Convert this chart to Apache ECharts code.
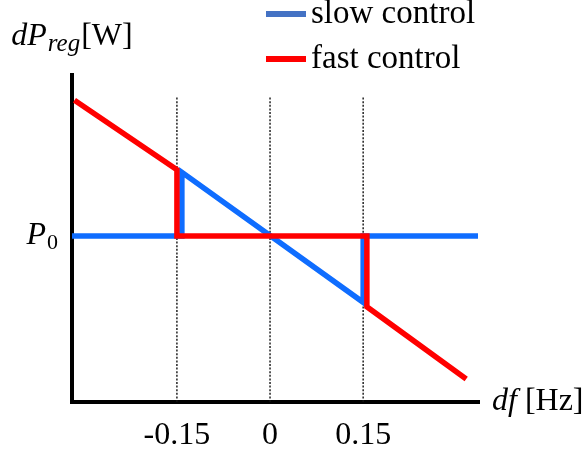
<!DOCTYPE html>
<html>
<head>
<meta charset="utf-8">
<script src="https://cdn.jsdelivr.net/npm/echarts@6/dist/echarts.min.js"></script>
<style>
  html, body { margin: 0; padding: 0; background: #fff; }
  #chart { width: 587px; height: 455px; }
</style>
</head>
<body>
<div id="chart"></div>
<script>
// Droop characteristic: frequency deviation df [Hz] vs. regulated power deviation (P0 = 0)
const slowFreq  = [-0.319, -0.142, -0.142, 0.15, 0.15, 0.335];
const slowPower = [0, 0, 0.98, -1.02, 0, 0];
const fastFreq  = [-0.315, -0.15, -0.15, 0.156, 0.156, 0.316];
const fastPower = [2.09, 1.02, 0, 0, -1.09, -2.2];

const freqTicks = [-0.15, 0, 0.15];
const freqTickLabels = ['-0.15', '0', '0.15'];
const powerTicks = [0];

const xRange = [-0.319, 0.335];
const yRange = [-2.554, 2.477];
const guideTop = 2.15;

const SERIF = '"Liberation Serif", "Times New Roman", serif';
const BLUE = '#0f6dff';
const RED = '#ff0000';

const zip = (xs, ys) => xs.map((x, i) => [x, ys[i]]);

// dotted vertical guides at the tick positions
const guides = freqTicks.map((t, i) => ({
  name: 'guide' + i,
  type: 'line',
  silent: true,
  symbol: 'none',
  z: 1,
  lineStyle: { color: '#111', width: 1.4, type: [2, 1.6] },
  data: [[t, yRange[0]], [t, guideTop]]
}));

const chart = echarts.init(document.getElementById('chart'), null, { renderer: 'canvas' });
chart.setOption({
  animation: false,
  backgroundColor: '#fff',
  grid: { left: 72, right: 109, top: 75, bottom: 53, containLabel: false },
  legend: {
    orient: 'vertical',
    left: 261,
    top: -9,
    itemWidth: 40,
    itemHeight: 6,
    itemGap: 9,
    icon: 'rect',
    textStyle: { fontFamily: SERIF, fontSize: 33, color: '#000', lineHeight: 36 },
    data: [
      { name: 'slow control', itemStyle: { color: '#4472c4' } },
      { name: 'fast control', itemStyle: { color: RED } }
    ]
  },
  xAxis: {
    type: 'value',
    min: xRange[0],
    max: xRange[1],
    splitLine: { show: false },
    axisTick: { show: false },
    axisLine: { onZero: false, lineStyle: { color: '#000', width: 4, cap: 'square' } },
    axisLabel: {
      customValues: freqTicks,
      formatter: v => freqTickLabels[freqTicks.findIndex(t => Math.abs(t - v) < 1e-9)],
      fontFamily: SERIF, fontSize: 32, color: '#000', margin: 18
    },
    name: '{i|df}{n|[Hz]}',
    nameLocation: 'end',
    nameGap: 14,
    nameTextStyle: {
      rich: {
        i: { fontFamily: SERIF, fontStyle: 'italic', fontSize: 32, color: '#000' },
        n: { fontFamily: SERIF, fontSize: 32, color: '#000', padding: [0, 0, 0, 8] }
      }
    }
  },
  yAxis: {
    type: 'value',
    min: yRange[0],
    max: yRange[1],
    splitLine: { show: false },
    axisTick: { show: false },
    axisLine: { onZero: false, lineStyle: { color: '#000', width: 4, cap: 'square' } },
    axisLabel: {
      customValues: powerTicks,
      formatter: () => '{i|P}{s|0}',
      margin: 14,
      rich: {
        i: { fontFamily: SERIF, fontStyle: 'italic', fontSize: 32, color: '#000' },
        s: { fontFamily: SERIF, fontSize: 22, color: '#000', padding: [14, 0, 0, 1] }
      }
    },
    name: '{i|dP}{s|reg}{n|[W]}',
    nameLocation: 'end',
    nameGap: 18,
    nameTextStyle: {
      align: 'center',
      rich: {
        i: { fontFamily: SERIF, fontStyle: 'italic', fontSize: 32, color: '#000' },
        s: { fontFamily: SERIF, fontStyle: 'italic', fontSize: 25, color: '#000', padding: [16, 1, 0, 1] },
        n: { fontFamily: SERIF, fontSize: 32, color: '#000' }
      }
    }
  },
  series: [
    ...guides,
    {
      name: 'slow control',
      type: 'line',
      symbol: 'none',
      z: 3,
      itemStyle: { color: '#4472c4' },
      lineStyle: { color: BLUE, width: 5.5, join: 'miter', cap: 'butt' },
      data: zip(slowFreq, slowPower)
    },
    {
      name: 'fast control',
      type: 'line',
      symbol: 'none',
      z: 4,
      itemStyle: { color: RED },
      lineStyle: { color: RED, width: 5.5, join: 'miter', cap: 'butt' },
      data: zip(fastFreq, fastPower)
    }
  ]
});
</script>
</body>
</html>
